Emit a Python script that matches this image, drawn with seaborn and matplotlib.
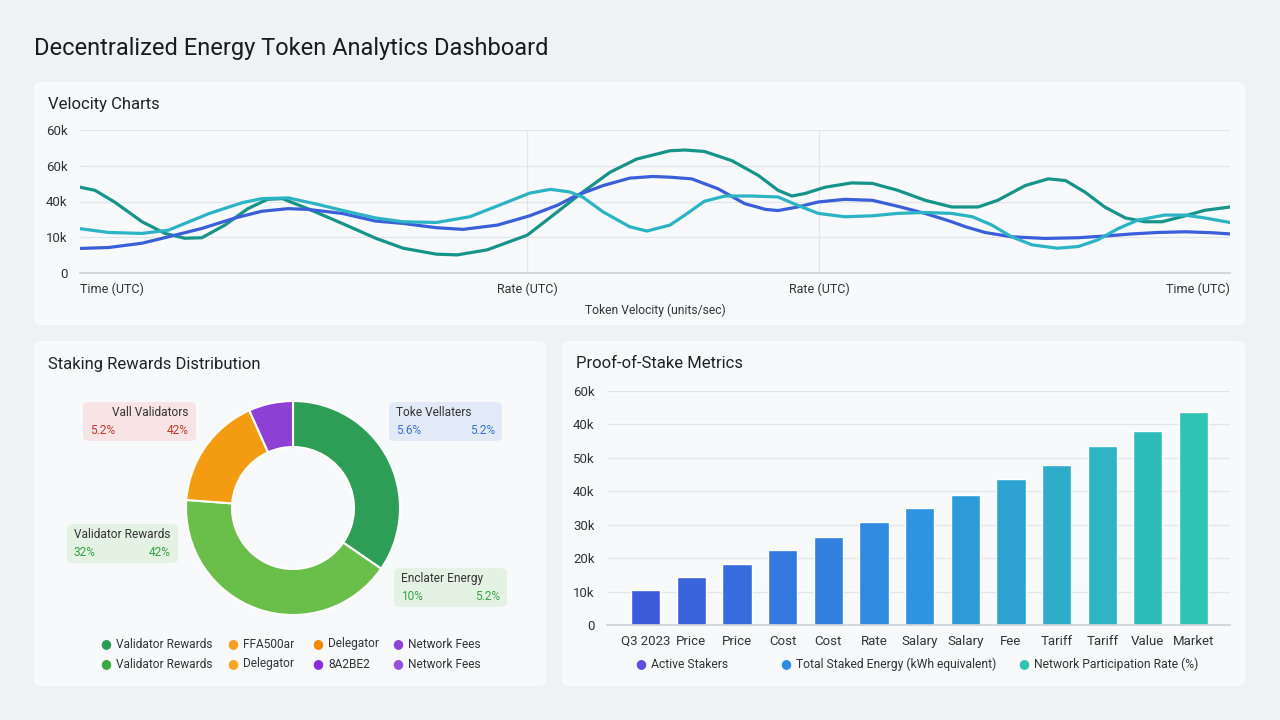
import numpy as np
import pandas as pd
import seaborn as sns
import matplotlib.pyplot as plt
from matplotlib.patches import FancyBboxPatch

#DATA - VELOCITY LINES (t = % of timeline, value in thousands on the drawn scale)
teal_t = [0, 1.3, 3.0, 5.4, 7.4, 9.1, 10.6, 12.6, 14.6, 16.3, 17.6, 19.8, 22.8, 25.7, 28.1, 31.0, 32.8, 35.4,
          38.9, 41.5, 43.7, 46.1, 48.4, 51.3, 52.6, 54.3, 56.7, 59.0, 60.7, 61.9, 63.0, 64.8, 67.1, 68.9, 71.1,
          73.5, 75.8, 77.0, 78.1, 79.8, 82.2, 84.2, 85.7, 87.4, 89.1, 90.9, 92.6, 94.1, 96.1, 97.8, 100]
teal_v = [36.0, 34.7, 29.8, 21.5, 16.6, 14.6, 14.8, 20.1, 27.0, 30.9, 31.2, 27.0, 20.8, 14.6, 10.4, 7.9, 7.6, 9.7,
          15.9, 25.6, 33.9, 42.3, 47.8, 51.3, 51.6, 51.0, 47.1, 40.9, 34.7, 32.3, 33.3, 36.0, 37.8, 37.6, 34.7,
          30.5, 27.7, 27.7, 27.7, 30.5, 36.7, 39.5, 38.8, 33.9, 27.7, 23.1, 21.5, 21.5, 24.0, 26.3, 27.7]
cyan_t = [0, 2.5, 5.4, 7.7, 11.2, 14.1, 15.8, 18.1, 20.4, 22.8, 25.7, 28.1, 31.0, 33.9, 36.8, 39.1, 40.9, 42.6,
          43.7, 45.5, 47.8, 49.3, 51.3, 52.6, 54.3, 56.1, 58.4, 60.7, 62.4, 64.2, 66.5, 68.9, 71.1, 73.5, 75.8,
          77.6, 79.3, 81.0, 82.8, 85.0, 86.8, 88.5, 90.3, 92.0, 94.3, 96.1, 97.8, 100]
cyan_v = [18.6, 17.0, 16.6, 18.0, 24.9, 29.5, 31.2, 31.5, 29.1, 26.3, 23.1, 21.5, 21.2, 23.6, 29.1, 33.5, 35.1, 34.0,
          31.9, 25.6, 19.4, 17.6, 20.1, 24.3, 30.1, 32.3, 32.3, 31.9, 28.4, 25.0, 23.6, 24.0, 25.0, 25.4, 25.0,
          23.6, 20.1, 15.2, 11.8, 10.4, 11.1, 13.9, 18.7, 22.2, 24.3, 24.3, 23.1, 21.2]
blue_t = [0, 2.5, 5.4, 7.7, 10.6, 13.5, 15.8, 18.1, 19.8, 22.8, 25.7, 28.1, 31.0, 33.3, 36.3, 39.1, 41.5, 43.2,
          45.5, 47.8, 49.8, 51.3, 53.2, 55.5, 57.8, 59.6, 60.7, 62.4, 64.2, 66.5, 68.9, 71.1, 73.5, 75.8, 77.0,
          78.7, 81.0, 83.9, 86.8, 89.1, 91.5, 93.7, 96.1, 98.4, 100]
blue_v = [10.3, 10.7, 12.5, 15.2, 18.7, 23.1, 25.9, 27.0, 26.7, 25.0, 21.8, 20.8, 19.0, 18.3, 20.1, 24.0, 28.4, 32.6,
          36.7, 39.8, 40.5, 40.2, 39.5, 35.3, 29.1, 26.7, 26.2, 27.7, 29.8, 30.9, 30.5, 28.0, 25.0, 21.5, 19.4,
          17.0, 15.2, 14.5, 14.8, 15.5, 16.4, 17.0, 17.3, 16.9, 16.4]
line_ticks = [0, 38.9, 64.3, 100]
line_tick_labels = ['Time (UTC)', 'Rate (UTC)', 'Rate (UTC)', 'Time (UTC)']
line_y_ticks = [0, 15, 30, 45, 60]
line_y_labels = ['0', '10k', '40k', '60k', '60k']

#DATA - DONUT
donut_values = [34.6, 41.6, 17.1, 6.7]
donut_colors = ['#2e9e57', '#6abf4b', '#f39c12', '#8e3fd6']
callouts = [('Vall Validators', '5.2%', '42%'), ('Toke Vellaters', '5.6%', '5.2%'),
            ('Validator Rewards', '32%', '42%'), ('Enclater Energy', '10%', '5.2%')]
donut_legend = [['Validator Rewards', 'FFA500ar', 'Delegator', 'Network Fees'],
                ['Validator Rewards', 'Delegator', '8A2BE2', 'Network Fees']]

#DATA - BARS
bar_labels = ['Q3 2023', 'Price', 'Price', 'Cost', 'Cost', 'Rate', 'Salary', 'Salary', 'Fee', 'Tariff', 'Tariff',
              'Value', 'Market']
bar_values = [10500, 14500, 18100, 22400, 26400, 30700, 34900, 38800, 43600, 47900, 53500, 57900, 63600]
bar_y_ticks = [0, 10000, 20000, 30000, 40000, 50000, 60000, 70000]
bar_y_labels = ['0', '10k', '20k', '30k', '40k', '50k', '40k', '60k']
bar_legend = ['Active Stakers', 'Total Staked Energy (kWh equivalent)', 'Network Participation Rate (%)']

sns.set_theme(style='white')
plt.rcParams['font.family'] = ['Roboto', 'DejaVu Sans']

W, H = 1280, 720
fig = plt.figure(figsize=(12.8, 7.2), dpi=100)
fig.patch.set_facecolor('#eef2f5')

def fx(x):
    return x / W

def fy(y):
    return 1 - y / H

def px_axes(l, t, r, b):
    return fig.add_axes([l / W, 1 - b / H, (r - l) / W, (b - t) / H])

def panel(l, t, r, b, fc='#f7f9fb'):
    fig.add_artist(FancyBboxPatch((fx(l), fy(b)), (r - l) / W, (b - t) / H,
                                  boxstyle='round,pad=0,rounding_size=0.006', transform=fig.transFigure,
                                  facecolor=fc, edgecolor='none', zorder=0))

panel(34, 82, 1245, 325)
panel(34, 341, 546, 686)
panel(562, 341, 1245, 686)

fig.text(fx(34), fy(48), 'Decentralized Energy Token Analytics Dashboard', fontsize=17, color='#1b1b1b', va='center')
fig.text(fx(48), fy(105), 'Velocity Charts', fontsize=12, color='#222', va='center')
fig.text(fx(48), fy(364), 'Staking Rewards Distribution', fontsize=12, color='#222', va='center')
fig.text(fx(576), fy(364), 'Proof-of-Stake Metrics', fontsize=12, color='#222', va='center')

###VELOCITY LINE CHART
df_lines = pd.concat([
    pd.DataFrame({'t': teal_t, 'value': teal_v, 'series': 'Grid Token'}),
    pd.DataFrame({'t': blue_t, 'value': blue_v, 'series': 'Validator Token'}),
    pd.DataFrame({'t': cyan_t, 'value': cyan_v, 'series': 'Energy Token'}),
])
ax1 = px_axes(80, 130, 1230, 273)
ax1.set_facecolor('none')
sns.lineplot(data=df_lines, x='t', y='value', hue='series', estimator=None,
             palette=['#17948a', '#3a5fd8', '#2cb4c4'], linewidth=2.3, legend=False, ax=ax1,
             solid_joinstyle='round', solid_capstyle='round')
ax1.set_xlim(0, 100)
ax1.set_ylim(0, 60)
ax1.set_yticks(line_y_ticks)
ax1.set_yticklabels(line_y_labels)
ax1.set_xticks(line_ticks)
ax1.set_xticklabels(line_tick_labels)
xl = ax1.get_xticklabels()
xl[0].set_ha('left')
xl[-1].set_ha('right')
for y in line_y_ticks[1:]:
    ax1.axhline(y, color='#e2e5e9', lw=0.9, zorder=0)
for x in line_ticks[1:3]:
    ax1.axvline(x, color='#e2e5e9', lw=0.9, zorder=0)
for s in ['top', 'right', 'left']:
    ax1.spines[s].set_visible(False)
ax1.spines['bottom'].set_color('#cfd3d8')
ax1.tick_params(axis='x', length=0, labelsize=9, labelcolor='#333', pad=7)
ax1.tick_params(axis='y', length=0, labelsize=9.5, labelcolor='#333', pad=9)
ax1.set_xlabel('Token Velocity (units/sec)', fontsize=8.7, color='#333', labelpad=5)
ax1.set_ylabel('')

###DONUT CHART
cx, cy, r = 293, 508, 107
ax2 = px_axes(cx - r, cy - r, cx + r, cy + r)
ax2.pie(donut_values, colors=donut_colors, startangle=90, counterclock=False, radius=1,
        wedgeprops=dict(width=0.43, edgecolor='white', linewidth=1.5))
ax2.set_xlim(-1, 1)
ax2.set_ylim(-1, 1)
ax2.axis('off')

boxes = [(83, 402, 196, 441, '#f8e4e4', '#c0392b', 'right'),
         (389, 402, 502, 441, '#e2eaf7', '#3b6fd4', 'left'),
         (67, 524, 178, 563, '#e4f2e4', '#3a9e48', 'left'),
         (394, 568, 507, 607, '#e4f2e4', '#3a9e48', 'left')]
for (l, t, rr, b, fc, col, align), (name, p1, p2) in zip(boxes, callouts):
    panel(l, t, rr, b, fc=fc)
    if align == 'right':
        fig.text(fx(rr - 7), fy(t + 10.5), name, fontsize=8.6, color='#333', ha='right', va='center')
    else:
        fig.text(fx(l + 7), fy(t + 10.5), name, fontsize=8.6, color='#333', ha='left', va='center')
    fig.text(fx(l + 7), fy(t + 28), p1, fontsize=8.6, color=col, ha='left', va='center')
    fig.text(fx(rr - 7), fy(t + 28), p2, fontsize=8.6, color=col, ha='right', va='center')

leg_x = [106, 233, 318, 398]
leg_cols = [['#2e9a55', '#f5a020', '#f08a00', '#8b44d6'], ['#3aa845', '#f5a623', '#8a2be2', '#9b4fe0']]
for row, yy in enumerate([644, 664]):
    for i, x in enumerate(leg_x):
        fig.text(fx(x), fy(yy), '●', fontsize=9, color=leg_cols[row][i], ha='center', va='center',
                 family='DejaVu Sans')
        fig.text(fx(x + 10), fy(yy), donut_legend[row][i], fontsize=8.6, color='#333', ha='left', va='center')

###BAR CHART
df_bars = pd.DataFrame({'idx': range(len(bar_values)), 'value': bar_values})
ax3 = px_axes(607, 391, 1230, 625)
ax3.set_facecolor('none')
bar_pal = sns.blend_palette(['#3b5bdb', '#2e93e0', '#2ec4b4'], len(bar_values))
sns.barplot(data=df_bars, x='idx', y='value', hue='idx', palette=bar_pal, legend=False,
            width=0.64, saturation=1, ax=ax3)
ax3.set_xlim(-0.85, 12.8)
ax3.set_ylim(0, 70000)
ax3.set_yticks(bar_y_ticks)
ax3.set_yticklabels(bar_y_labels)
ax3.set_xticks(range(len(bar_labels)))
ax3.set_xticklabels(bar_labels)
for y in bar_y_ticks[1:]:
    ax3.axhline(y, color='#e2e5e9', lw=0.9, zorder=0)
for s in ['top', 'right', 'left']:
    ax3.spines[s].set_visible(False)
ax3.spines['bottom'].set_color('#cfd3d8')
ax3.tick_params(length=0, labelsize=9.5, labelcolor='#333', pad=7)
ax3.tick_params(axis='y', pad=9)
ax3.set_xlabel('')
ax3.set_ylabel('')

bl_x = [641, 786, 1024]
bl_cols = ['#5a4fe0', '#2f8de4', '#2ec4b0']
for x, lab, c in zip(bl_x, bar_legend, bl_cols):
    fig.text(fx(x), fy(664), '●', fontsize=9, color=c, ha='center', va='center', family='DejaVu Sans')
    fig.text(fx(x + 10), fy(664), lab, fontsize=8.7, color='#333', ha='left', va='center')

fig.savefig('out.png', dpi=100, facecolor=fig.get_facecolor())
